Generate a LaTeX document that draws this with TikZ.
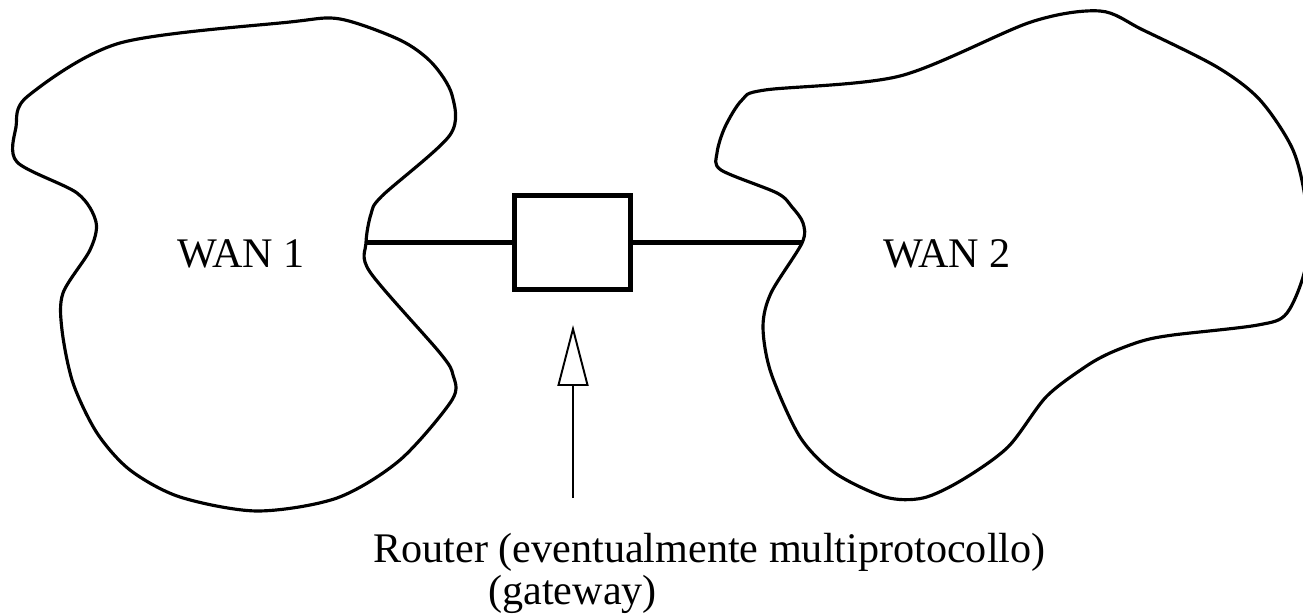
\documentclass[tikz,border=0pt]{standalone}
\usepackage{fontspec}
\setmainfont{Liberation Serif}
\usetikzlibrary{arrows.meta}

\begin{document}
\begin{tikzpicture}[x=0.02cm,y=-0.02cm,
  >={Triangle[open,length=1.22cm,width=0.62cm]},
  main node/.style={font=\fontsize{24}{28}\selectfont,inner sep=0pt},
  cloud line/.style={line width=1.8pt,line join=round},
  link/.style={line width=2.8pt}]
  \useasboundingbox (0,0) rectangle (1303,615);
  % first network
  \draw[cloud line] plot[smooth cycle,tension=0.5] coordinates {
    (340,19) (400,40) (432,63) (452,95) (450,135) (382,196) (371,214)
    (366,243) (370,272) (440,353) (453,375) (452,400) (400,460) (337,498)
    (257,511) (180,497) (130,470) (97,433) (73,383) (62,330) (63,293)
    (90,250) (96,222) (77,193) (17,162) (16,127) (28,96) (120,43) (290,22)};
  % second network
  \draw[cloud line] plot[smooth cycle,tension=0.5] coordinates {
    (1100,11) (1143,30) (1217,67) (1260,100) (1293,150) (1306,205)
    (1306,265) (1287,313) (1258,325) (1173,335) (1142,341) (1110,353)
    (1085,367) (1046,397) (1008,447) (962,480) (923,498) (885,497)
    (835,473) (800,437) (771,373) (763,327) (771,293) (802,243) (803,223)
    (792,207) (777,193) (721,170) (717,153) (725,127) (742,100) (765,90)
    (900,76) (1031,22)};
  \node[main node]   (wan1) at (241,254)   {WAN 1};
  \node[main node]   (wan2) at (947,254)   {WAN 2};
  \node[draw,line width=2.8pt,minimum width=2.32cm,minimum height=1.88cm]
                     (router) at (572.5,242.5) {};
  \coordinate (p1)   at (366,242.5);
  \coordinate (p2)   at (802,242.5);
  \coordinate (tail) at (573,498);
  \coordinate (tip)  at (573,325);
  \node[main node,anchor=base west] (lbl) at (373,562)
    {Router (eventualmente multiprotocollo)};
  \node[main node,anchor=base west] (gw)  at (488,604) {(gateway)};
  \path[link]
    (p1) edge (router)
    (router) edge (p2);
  \draw[->,line width=1.1pt] (tail) -- (tip);
\end{tikzpicture}
\end{document}
